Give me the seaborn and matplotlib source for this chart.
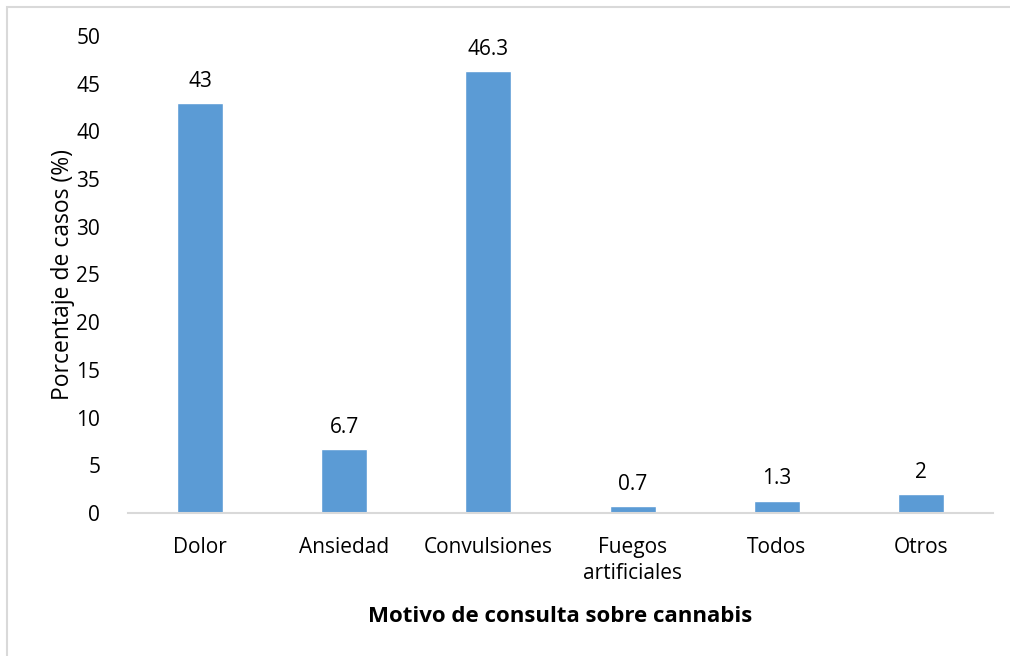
import matplotlib
matplotlib.use("Agg")
import matplotlib.pyplot as plt
import seaborn as sns
import pandas as pd
from matplotlib.patches import Rectangle

categories = ["Dolor", "Ansiedad", "Convulsiones", "Fuegos\nartificiales", "Todos", "Otros"]
values = [43, 6.7, 46.3, 0.7, 1.3, 2]
labels = ["43", "6.7", "46.3", "0.7", "1.3", "2"]
yticks = [0, 5, 10, 15, 20, 25, 30, 35, 40, 45, 50]

sns.set_style("white")
plt.rcParams['font.family'] = ['Open Sans', 'DejaVu Sans']
plt.rcParams['text.color'] = '#000000'
plt.rcParams['axes.labelcolor'] = '#000000'
plt.rcParams['xtick.color'] = '#000000'
plt.rcParams['ytick.color'] = '#000000'

df = pd.DataFrame({"cat": categories, "val": values})

fig = plt.figure(figsize=(10.10, 6.56), dpi=100)
ax = fig.add_axes([128/1010, 1-513/656, (993-128)/1010, (513-36)/656])

sns.barplot(data=df, x="cat", y="val", color="#5b9bd5", width=0.32, ax=ax, saturation=1)

ax.set_xlim(-0.5, 5.5)
ax.set_ylim(0, 50)
ax.set_yticks(yticks)
ax.set_yticklabels([str(t) for t in yticks], fontsize=15)
ax.tick_params(axis='y', length=0, pad=20)
ax.tick_params(axis='x', length=0, pad=17, labelsize=15)
for t in ax.get_xticklabels():
    t.set_linespacing(1.35)
for s in ["top", "right", "left"]:
    ax.spines[s].set_visible(False)
ax.spines["bottom"].set_color("#d9d9d9")
ax.spines["bottom"].set_linewidth(1.5)

for i, (v, lab) in enumerate(zip(values, labels)):
    ax.annotate(lab, (i, v), xytext=(0, 8), textcoords="offset points",
                ha="center", va="bottom", fontsize=15)

ax.set_xlabel("Motivo de consulta sobre cannabis", fontsize=16, fontweight="bold", labelpad=16)
ax.set_ylabel("Porcentaje de casos (%)", fontsize=16.5, labelpad=1)

fig.patches.append(Rectangle((7/1010, -0.1), 1.2, 1-7/656+0.1, transform=fig.transFigure,
                             fill=False, edgecolor="#d9d9d9", linewidth=1.5))

fig.savefig("out.png", dpi=100)
